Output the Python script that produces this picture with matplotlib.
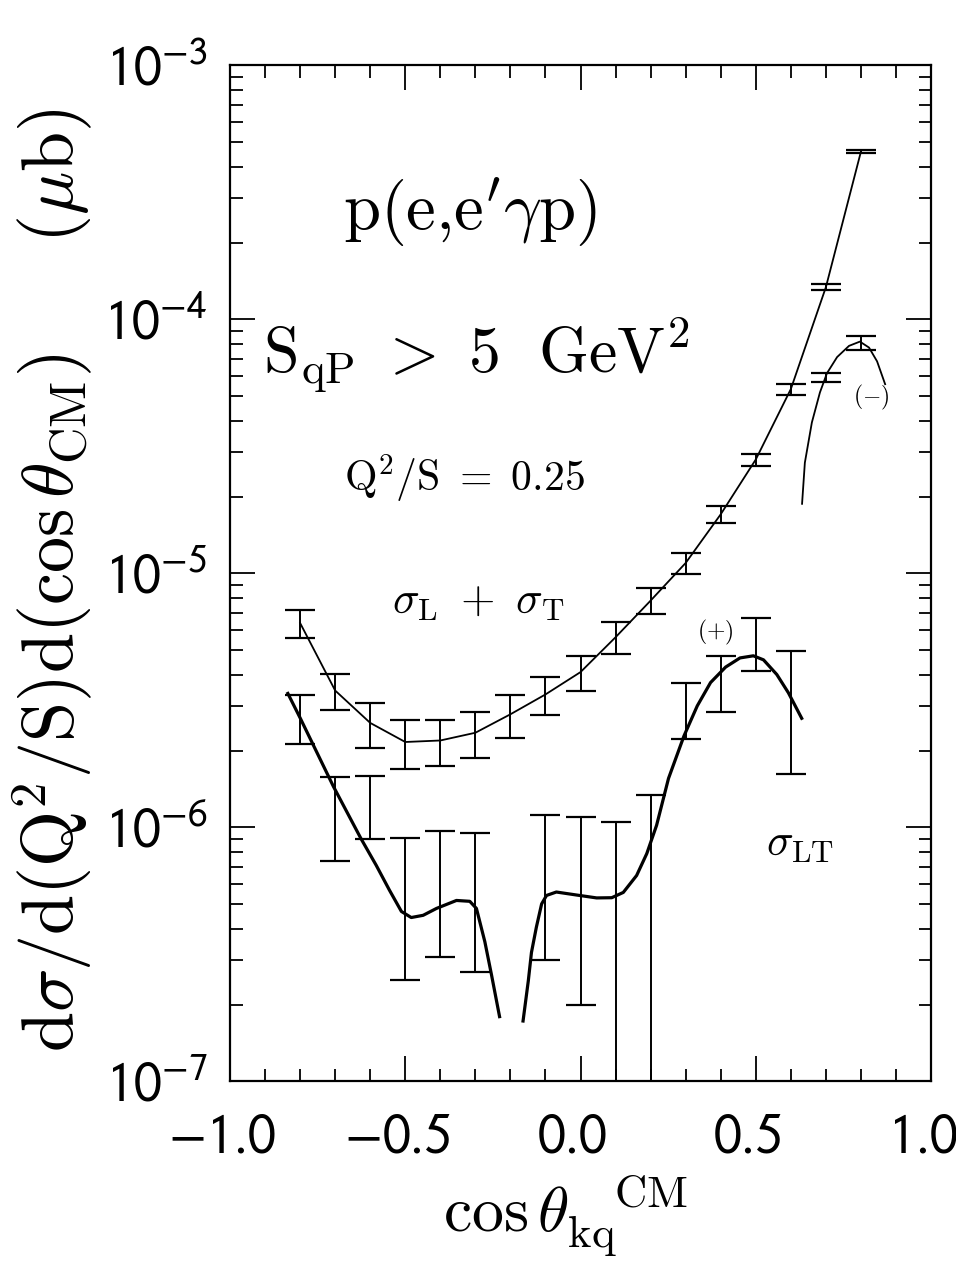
"""Log plot: sigma_L + sigma_T and sigma_LT vs cos(theta_kq) for p(e,e'gamma p)."""
import math

import matplotlib
matplotlib.use("Agg")
import matplotlib.pyplot as plt
import matplotlib.transforms as mtransforms
from matplotlib.ticker import FixedLocator, MultipleLocator, FuncFormatter, NullFormatter

plt.rcParams["font.family"] = ["Liberation Sans", "DejaVu Sans"]
plt.rcParams["mathtext.fontset"] = "stixsans"   # tick labels; other texts use cm

# --- sigma_L + sigma_T (upper data and curve) ---
x_sum = [-0.8, -0.7, -0.6, -0.5, -0.4, -0.3, -0.2, -0.1, 0.0, 0.1, 0.2, 0.3, 0.4, 0.5, 0.6, 0.7, 0.8]
y_sum = [6.38e-6, 3.46e-6, 2.58e-6, 2.17e-6, 2.20e-6, 2.36e-6, 2.79e-6, 3.34e-6, 4.09e-6,
         5.61e-6, 7.82e-6, 1.10e-5, 1.71e-5, 2.81e-5, 5.32e-5, 1.34e-4, 4.58e-4]
err_sum = [0.79e-6, 0.57e-6, 0.52e-6, 0.47e-6, 0.46e-6, 0.49e-6, 0.53e-6, 0.57e-6, 0.66e-6,
           0.81e-6, 0.92e-6, 1.07e-6, 1.35e-6, 1.5e-6, 2.65e-6, 4.0e-6, 5.0e-6]

# --- (-) branch ---
x_minus = [0.7, 0.8]
y_minus = [5.9e-5, 8.1e-5]
err_minus = [0.25e-5, 0.49e-5]
x_minus_curve = [0.632, 0.64, 0.66, 0.683, 0.703, 0.732, 0.766, 0.797, 0.823, 0.846, 0.869]
y_minus_curve = [1.88e-5, 2.73e-5, 3.93e-5, 5.16e-5, 6.14e-5, 7.11e-5, 7.87e-5, 8.18e-5, 7.75e-5, 6.84e-5, 5.56e-5]

# --- sigma_LT (lower data and curve) ---
x_lt = [-0.8, -0.7, -0.6, -0.5, -0.4, -0.3, -0.1, 0.0, 0.1, 0.2, 0.3, 0.4, 0.5, 0.6]
y_lt = [2.73e-6, 1.16e-6, 1.25e-6, 5.8e-7, 6.4e-7, 6.1e-7, 7.1e-7, 6.5e-7, 5.0e-7, 6.5e-7,
        2.97e-6, 3.79e-6, 5.39e-6, 3.29e-6]
err_lt = [0.59e-6, 0.42e-6, 0.35e-6, 3.3e-7, 3.3e-7, 3.4e-7, 4.1e-7, 4.5e-7, 5.5e-7, 6.9e-7,
          0.75e-6, 0.93e-6, 1.26e-6, 1.67e-6]
x_lt_left = [-0.835, -0.8, -0.705, -0.626, -0.583, -0.545, -0.511, -0.483, -0.449, -0.411,
             -0.354, -0.316, -0.297, -0.273, -0.254, -0.231]
y_lt_left = [3.37e-6, 2.70e-6, 1.45e-6, 9.02e-7, 7.10e-7, 5.66e-7, 4.67e-7, 4.42e-7, 4.51e-7,
             4.80e-7, 5.16e-7, 5.12e-7, 4.80e-7, 3.55e-7, 2.63e-7, 1.80e-7]
x_lt_right = [-0.164, -0.149, -0.140, -0.126, -0.111, -0.097, -0.069, -0.011, 0.046, 0.089,
              0.122, 0.16, 0.189, 0.217, 0.251, 0.295, 0.333, 0.371, 0.414, 0.455, 0.493,
              0.522, 0.56, 0.593, 0.631]
y_lt_right = [1.73e-7, 2.49e-7, 3.22e-7, 4.05e-7, 5.0e-7, 5.40e-7, 5.57e-7, 5.42e-7, 5.28e-7,
              5.29e-7, 5.55e-7, 6.47e-7, 7.89e-7, 1.02e-6, 1.56e-6, 2.29e-6, 3.01e-6, 3.72e-6,
              4.28e-6, 4.65e-6, 4.74e-6, 4.57e-6, 4.0e-6, 3.39e-6, 2.69e-6]

y_major = [1e-7, 1e-6, 1e-5, 1e-4, 1e-3]
x_major = [-1.0, -0.5, 0.0, 0.5, 1.0]

fig = plt.figure(figsize=(9.56, 12.68), dpi=100)
ax = fig.add_axes([0.2406, 0.1471, 0.7333, 0.8013])
ax.set_yscale("log")
ax.set_xlim(-1.0, 1.0)
ax.set_ylim(1e-7, 1e-3)

eb = dict(fmt="none", ecolor="black", elinewidth=1.4, capsize=11, capthick=1.6)
ax.errorbar(x_sum, y_sum, yerr=err_sum, **eb)
ax.plot(x_sum, y_sum, color="black", lw=1.3)
ax.errorbar(x_minus, y_minus, yerr=err_minus, **eb)
ax.plot(x_minus_curve, y_minus_curve, color="black", lw=1.3)
ax.errorbar(x_lt, y_lt, yerr=err_lt, **eb)
ax.plot(x_lt_left, y_lt_left, color="black", lw=2.3)
ax.plot(x_lt_right, y_lt_right, color="black", lw=2.3)

# --- Axes styling ---
for sp in ax.spines.values():
    sp.set_linewidth(1.6)
ax.xaxis.set_major_locator(FixedLocator(x_major))
ax.xaxis.set_minor_locator(MultipleLocator(0.1))
ax.yaxis.set_major_locator(FixedLocator(y_major))
ax.yaxis.set_minor_locator(FixedLocator([m * d for d in [1e-7, 1e-6, 1e-5, 1e-4] for m in range(2, 10)]))
ax.yaxis.set_minor_formatter(NullFormatter())
ax.xaxis.set_major_formatter(FuncFormatter(lambda v, p: r"$%.1f$" % v))
ax.yaxis.set_major_formatter(FuncFormatter(lambda v, p: r"$10^{%d}$" % round(math.log10(v))))
ax.tick_params(which="both", direction="in", top=True, right=True, width=1.3)
ax.tick_params(which="major", length=18, labelsize=40)
ax.tick_params(which="minor", length=9)
ax.tick_params(axis="x", which="major", pad=22)
ax.tick_params(axis="y", which="major", pad=16)

# x tick labels sit a little left of their ticks in the original
shift = mtransforms.ScaledTranslation(-8 / 100, 0, fig.dpi_scale_trans)
for tick in ax.xaxis.get_major_ticks():
    tick.label1.set_transform(tick.label1.get_transform() + shift)

# --- Annotations (Computer Modern, like the original TeX-style labels) ---
cm = dict(transform=ax.transAxes, ha="center", va="center", math_fontfamily="cm")
ax.text(0.342, 0.856, r"$\mathrm{p(e{,}e'\gamma p)}$", fontsize=48, **cm)
ax.text(0.351, 0.715, r"$\mathrm{S_{qP}\ >\ 5\ \ GeV^2}$", fontsize=46, **cm)
ax.text(0.335, 0.594, r"$\mathrm{Q^2/S\ =\ 0.25}$", fontsize=30, **cm)
ax.text(0.354, 0.471, r"$\sigma_{\mathrm{L}}\ +\ \sigma_{\mathrm{T}}$", fontsize=32, **cm)
ax.text(0.692, 0.442, r"$(+)$", fontsize=17, **cm)
ax.text(0.813, 0.233, r"$\sigma_{\mathrm{LT}}$", fontsize=32, **cm)
ax.text(0.915, 0.673, r"$(-)$", fontsize=17, **cm)

fig.text(0.055, 0.5426,
         r"$\mathrm{d}\sigma/\mathrm{d}(\mathrm{Q}^2/\mathrm{S})\mathrm{d}(\cos\theta_{\mathrm{CM}})\ \ \ \ \ (\mu\mathrm{b})$",
         rotation=90, fontsize=52, ha="center", va="center", math_fontfamily="cm")
fig.text(0.592, 0.0284, r"$\cos\theta_{\mathrm{kq}}^{\ \ \ \mathrm{CM}}$", fontsize=46,
         ha="center", va="baseline", math_fontfamily="cm")

fig.savefig("out.png", dpi=100)
